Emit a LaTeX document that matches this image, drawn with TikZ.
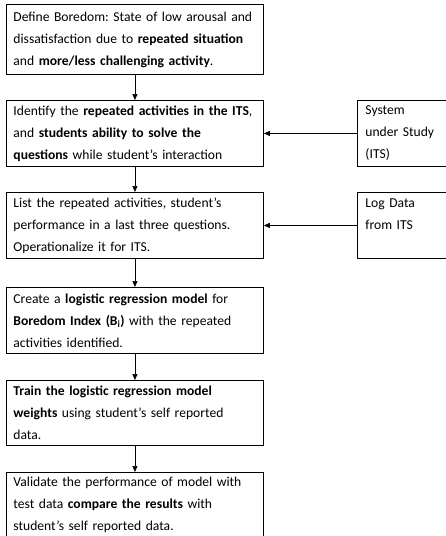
\documentclass[tikz,border=0pt]{standalone}
\usepackage{fontspec}
\setmainfont{Carlito}
\usetikzlibrary{arrows.meta}
\begin{document}
\frenchspacing
\begin{tikzpicture}[x=1pt,y=1pt,
  mainbox/.style={draw, line width=0.9pt, text width=243pt, align=left, inner xsep=7pt, inner ysep=2pt, anchor=north west, font=\fontsize{13.6}{22}\selectfont},
  sidebox/.style={draw, line width=0.9pt, text width=80pt, align=left, inner xsep=8pt, inner ysep=2pt, anchor=north west, font=\fontsize{13.6}{22}\selectfont},
  conn/.style={line width=0.7pt, -{Triangle[length=6pt,width=5pt]}}]
\useasboundingbox (0,0) rectangle (445,-536);
\node[mainbox, minimum height=70pt] (b1) at (6,-4) {Define Boredom: State of low arousal and\\dissatisfaction due to \textbf{repeated situation}\\and \textbf{more/less challenging activity}.};
\node[mainbox, minimum height=66pt] (b2) at (6,-100) {Identify the \textbf{repeated activities in the ITS},\\and \textbf{students ability to solve the}\\\textbf{questions} while student’s interaction};
\node[mainbox, minimum height=66pt] (b3) at (6,-192) {List the repeated activities, student’s\\performance in a last three questions.\\Operationalize it for ITS.};
\node[mainbox, minimum height=66pt] (b4) at (6,-287) {Create a \textbf{logistic regression model} for\\\textbf{Boredom Index (B\textsubscript{i})} with the repeated\\activities identified.};
\node[mainbox, minimum height=65pt] (b5) at (6,-380) {\textbf{Train the logistic regression model}\\\textbf{weights} using student’s self reported\\data.};
\node[mainbox, minimum height=64pt] (b6) at (6,-472) {Validate the performance of model with\\test data \textbf{compare the results} with\\student’s self reported data.};
\node[sidebox, minimum height=66pt] (s1) at (357,-100) {System\\under Study\\(ITS)};
\node[sidebox, minimum height=66pt] (s2) at (357,-192) {Log Data\\from ITS\\\mbox{}};
\draw[conn] (b1) -- (b2);
\draw[conn] (b2) -- (b3);
\draw[conn] (b3) -- (b4);
\draw[conn] (b4) -- (b5);
\draw[conn] (b5) -- (b6);
\draw[conn] (s1.west) -- (s1.west -| b2.east);
\draw[conn] (s2.west) -- (s2.west -| b3.east);
\end{tikzpicture}
\end{document}
